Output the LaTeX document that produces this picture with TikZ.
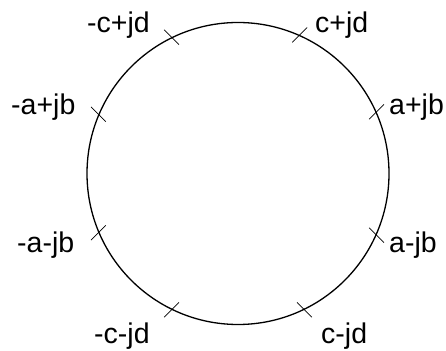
\documentclass[tikz,border=0pt]{standalone}
\usepackage{fontspec}
\setmainfont{Liberation Sans}
\begin{document}
\begin{tikzpicture}[x=1pt,y=1pt,
  lbl/.style={anchor=base west,inner sep=0pt,font=\fontsize{28.5}{32}\selectfont},
  tickmark/.style={line width=0.7pt},
  ring/.style={circle,draw,line width=1.3pt,minimum size=302pt,inner sep=0pt}]
\useasboundingbox (0,0) rectangle (446,350);
\node[ring] (circ) at (238,176.5) {};
% ticks
\draw[tickmark] (circ.66) ++(-7.4,-7.4) -- ++(14.8,14.8);
\draw[tickmark] (circ.24) ++(-7.4,-7.4) -- ++(14.8,14.8);
\draw[tickmark] (circ.-24) ++(-7.4,7.4) -- ++(14.8,-14.8);
\draw[tickmark] (circ.-64) ++(-7.4,7.4) -- ++(14.8,-14.8);
\draw[tickmark] (circ.-116) ++(-7.4,-7.4) -- ++(14.8,14.8);
\draw[tickmark] (circ.-157) ++(-7.4,-7.4) -- ++(14.8,14.8);
\draw[tickmark] (circ.157) ++(-7.4,7.4) -- ++(14.8,-14.8);
\draw[tickmark] (circ.116) ++(-7.4,7.4) -- ++(14.8,-14.8);
% labels
\node[lbl] (l1) at (87,317) {-c+jd};
\node[lbl] (l2) at (315,317) {c+jd};
\node[lbl] (l3) at (389,235) {a+jb};
\node[lbl] (l4) at (389,97) {a-jb};
\node[lbl] (l5) at (321,7) {c-jd};
\node[lbl] (l6) at (94,7) {-c-jd};
\node[lbl] (l7) at (11,235) {-a+jb};
\node[lbl] (l8) at (17,97) {-a-jb};
\end{tikzpicture}
\end{document}
